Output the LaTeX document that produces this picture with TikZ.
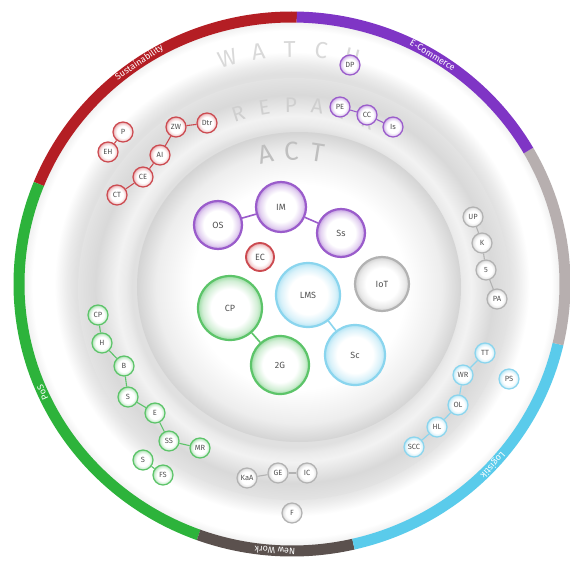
\documentclass[tikz,border=0pt]{standalone}
\usepackage{fontspec}
\setmainfont{Fira Sans}
\usetikzlibrary{positioning}

% ring and node colours
\definecolor{ringred}{HTML}{B41E24}
\definecolor{ringpurple}{HTML}{7F35C5}
\definecolor{ringgray}{HTML}{B7AFAF}
\definecolor{ringblue}{HTML}{5ACBEB}
\definecolor{ringbrown}{HTML}{5B514E}
\definecolor{ringgreen}{HTML}{2DB33B}
\definecolor{nodered}{HTML}{CC4A50}
\definecolor{nodepurple}{HTML}{9A5CCB}
\definecolor{nodegreen}{HTML}{5CC469}
\definecolor{nodeblue}{HTML}{8AD5EE}
\definecolor{nodegray}{HTML}{B2B2B2}

% soft disks: grey rim, white centre (path edge sits at 25bp)
\pgfdeclareradialshading{watchshade}{\pgfpoint{0bp}{0bp}}{color(0bp)=(black!12); color(20bp)=(black!12); color(20.8bp)=(black!8); color(22bp)=(white); color(24bp)=(white); color(25bp)=(black!7); color(50bp)=(black!7)}
\pgfdeclareradialshading{repairshade}{\pgfpoint{0bp}{0bp}}{color(0bp)=(black!12); color(18.8bp)=(black!12); color(19.5bp)=(black!8); color(20.5bp)=(black!5); color(23bp)=(black!15); color(25bp)=(black!11); color(50bp)=(black!11)}
\pgfdeclareradialshading{actshade}{\pgfpoint{0bp}{0bp}}{color(0bp)=(white); color(16.5bp)=(white); color(22bp)=(black!7); color(25bp)=(black!17); color(50bp)=(black!17)}
% node glows
\pgfdeclareradialshading{glowred}{\pgfpoint{0bp}{0bp}}{color(0bp)=(white); color(15bp)=(white); color(21.5bp)=(nodered!25); color(25bp)=(nodered!55); color(50bp)=(nodered!55)}
\pgfdeclareradialshading{glowpurple}{\pgfpoint{0bp}{0bp}}{color(0bp)=(white); color(15bp)=(white); color(21.5bp)=(nodepurple!28); color(25bp)=(nodepurple!60); color(50bp)=(nodepurple!60)}
\pgfdeclareradialshading{glowgreen}{\pgfpoint{0bp}{0bp}}{color(0bp)=(white); color(15bp)=(white); color(21.5bp)=(nodegreen!28); color(25bp)=(nodegreen!60); color(50bp)=(nodegreen!60)}
\pgfdeclareradialshading{glowblue}{\pgfpoint{0bp}{0bp}}{color(0bp)=(white); color(15bp)=(white); color(21.5bp)=(nodeblue!32); color(25bp)=(nodeblue!65); color(50bp)=(nodeblue!65)}
\pgfdeclareradialshading{glowgray}{\pgfpoint{0bp}{0bp}}{color(0bp)=(white); color(15bp)=(white); color(21.5bp)=(nodegray!28); color(25bp)=(nodegray!60); color(50bp)=(nodegray!60)}

\begin{document}
\begin{tikzpicture}[x=1pt, y=1pt,
  font=\fontsize{7.5}{8}\selectfont,
  ring/.style={line width=11pt},
  ringlabel/.style={text=white, inner sep=0pt, font=\fontsize{9}{10}\selectfont},
  watchtxt/.style={text=black!15, inner sep=0pt, font=\fontsize{23}{24}\selectfont},
  repairtxt/.style={text=black!19, inner sep=0pt, font=\fontsize{21}{22}\selectfont},
  acttxt/.style={text=black!25, inner sep=0pt, font=\fontsize{26}{27}\selectfont},
  topic/.style={circle, minimum size=20pt, inner sep=1pt, line width=1.2pt, text=black!68},
  big/.style={circle, inner sep=1pt, line width=2.2pt, text=black!68,
              font=\fontsize{9}{10}\selectfont},
  tred/.style={draw=nodered, shade, shading=glowred},
  tpurple/.style={draw=nodepurple, shade, shading=glowpurple},
  tgreen/.style={draw=nodegreen, shade, shading=glowgreen},
  tblue/.style={draw=nodeblue, shade, shading=glowblue},
  tgray/.style={draw=nodegray, shade, shading=glowgray},
  link/.style={line width=1.1pt},
]

\useasboundingbox (-292,-276) rectangle (278,284);
\clip (-292,-276) rectangle (278,284);
\fill[white] (-292,-276) rectangle (278,284);

% ============ DISKS: watch / repair / act ============
\shade[shading=watchshade] (0,0) ellipse [x radius=270, y radius=264];
\shade[shading=repairshade] (2,-5) ellipse [x radius=216, y radius=211];
\shade[shading=actshade] (7,-3) ellipse [x radius=162, y radius=155];

% ============ OUTER RING: six topics ============
\draw[ring, ringred] (89:273 and 267) arc[start angle=89, end angle=158, x radius=273, y radius=267];
\draw[ring, ringgreen] (158:273 and 267) arc[start angle=158, end angle=250, x radius=273, y radius=267];
\draw[ring, ringbrown] (250:273 and 267) arc[start angle=250, end angle=283, x radius=273, y radius=267];
\draw[ring, ringblue] (283:273 and 267) arc[start angle=283, end angle=347, x radius=273, y radius=267];
\draw[ring, ringgray] (347:273 and 267) arc[start angle=347, end angle=390, x radius=273, y radius=267];
\draw[ring, ringpurple] (30:273 and 267) arc[start angle=30, end angle=89, x radius=273, y radius=267];

\node[ringlabel, rotate=34] at (124:273 and 267) {Sustainability};
\node[ringlabel, rotate=-31] at (59:273 and 267) {E-Commerce};
\node[ringlabel, rotate=114] at (204:273 and 267) {PoS};
\node[ringlabel, rotate=176.4] at (266.4:273 and 267) {New Work};
\node[ringlabel, rotate=-132.7] at (-42.7:273 and 267) {Logistik};

% ============ LAYER NAMES ============
\node[watchtxt, rotate=16] at (-64.6,225.8) {W};
\node[watchtxt, rotate=8.4] at (-33.8,232.5) {A};
\node[watchtxt, rotate=0.8] at (-2.3,235.0) {T};
\node[watchtxt, rotate=-6.8] at (29.2,233.3) {C};
\node[watchtxt, rotate=-14.4] at (60.2,227.5) {H};

\node[repairtxt, rotate=17.5] at (-53.7,170.6) {R};
\node[repairtxt, rotate=9.1] at (-27.8,176.7) {E};
\node[repairtxt, rotate=0.7] at (-1.2,179.0) {P};
\node[repairtxt, rotate=-7.7] at (25.4,177.4) {A};
\node[repairtxt, rotate=-16.1] at (51.5,171.9) {I};
\node[repairtxt, rotate=-24.5] at (76.5,162.6) {R};

\node[acttxt, rotate=13] at (-26.6,129.5) {A};
\node[acttxt, rotate=2] at (-0.7,132.9) {C};
\node[acttxt, rotate=-9] at (25.3,131.3) {T};

% ============ SUSTAINABILITY (red) ============
\node[topic, tred] (sP) at (-169,152) {P};
\node[topic, tred] (sEH) at (-184,132) {EH};
\node[topic, tred] (sZW) at (-116,157) {ZW};
\node[topic, tred] (sDtr) at (-85,161) {Dtr};
\node[topic, tred] (sAI) at (-132,129) {AI};
\node[topic, tred] (sCE) at (-149,107) {CE};
\node[topic, tred] (sCT) at (-175,89) {CT};
\draw[link, nodered] (sP) -- (sEH);
\draw[link, nodered] (sZW) -- (sDtr);
\draw[link, nodered] (sZW) -- (sAI);
\draw[link, nodered] (sAI) -- (sCE);
\draw[link, nodered] (sCE) -- (sCT);

% ============ E-COMMERCE (purple) ============
\node[topic, tpurple] (eDP) at (58,219) {DP};
\node[topic, tpurple] (ePE) at (48,177) {PE};
\node[topic, tpurple] (eCC) at (75,169) {CC};
\node[topic, tpurple] (eIs) at (101,157) {Is};
\draw[link, nodepurple] (ePE) -- (eCC);
\draw[link, nodepurple] (eCC) -- (eIs);

% ============ ACT: large topics ============
\node[big, tpurple, minimum size=48pt] (aOS) at (-74,59) {OS};
\node[big, tpurple, minimum size=50pt] (aIM) at (-11,77) {IM};
\node[big, tpurple, minimum size=48pt] (aSs) at (49,51) {Ss};
\node[big, tred, minimum size=28pt, line width=1.8pt] (aEC) at (-32,27) {EC};
\node[big, tgreen, minimum size=64pt] (aCP) at (-62,-24) {CP};
\node[big, tgreen, minimum size=58pt] (a2G) at (-12,-81) {2G};
\node[big, tblue, minimum size=64pt] (aLMS) at (16,-11) {LMS};
\node[big, tblue, minimum size=60pt] (aSc) at (63,-71) {Sc};
\node[big, tgray, minimum size=54pt] (aIoT) at (90,0) {IoT};
\draw[link, nodepurple, line width=1.6pt] (aOS) -- (aIM);
\draw[link, nodepurple, line width=1.6pt] (aIM) -- (aSs);
\draw[link, nodegreen, line width=1.6pt] (aCP) -- (a2G);
\draw[link, nodeblue, line width=1.6pt] (aLMS) -- (aSc);

% ============ RIGHT (grey) ============
\node[topic, tgray] (iUP) at (181,67) {UP};
\node[topic, tgray] (iK) at (190,41) {K};
\node[topic, tgray] (i5) at (194,14) {5};
\node[topic, tgray] (iPA) at (205,-15) {PA};
\draw[link, nodegray] (iUP) -- (iK);
\draw[link, nodegray] (iK) -- (i5);
\draw[link, nodegray] (i5) -- (iPA);

% ============ LOGISTIK (blue) ============
\node[topic, tblue] (lTT) at (193,-69) {TT};
\node[topic, tblue] (lWR) at (171,-91) {WR};
\node[topic, tblue] (lPS) at (217,-95) {PS};
\node[topic, tblue] (lOL) at (166,-121) {OL};
\node[topic, tblue] (lHL) at (145,-143) {HL};
\node[topic, tblue] (lSCC) at (122,-163) {SCC};
\draw[link, nodeblue] (lTT) -- (lWR);
\draw[link, nodeblue] (lWR) -- (lOL);
\draw[link, nodeblue] (lOL) -- (lHL);
\draw[link, nodeblue] (lHL) -- (lSCC);

% ============ POS (green) ============
\node[topic, tgreen] (pCP) at (-194,-31) {CP};
\node[topic, tgreen] (pH) at (-190,-59) {H};
\node[topic, tgreen] (pB) at (-168,-82) {B};
\node[topic, tgreen] (pS) at (-164,-113) {S};
\node[topic, tgreen] (pE) at (-137,-129) {E};
\node[topic, tgreen] (pSS) at (-123,-157) {SS};
\node[topic, tgreen] (pMR) at (-92,-164) {MR};
\node[topic, tgreen] (pS2) at (-149,-176) {S};
\node[topic, tgreen] (pFS) at (-129,-191) {FS};
\draw[link, nodegreen] (pCP) -- (pH);
\draw[link, nodegreen] (pH) -- (pB);
\draw[link, nodegreen] (pB) -- (pS);
\draw[link, nodegreen] (pS) -- (pE);
\draw[link, nodegreen] (pE) -- (pSS);
\draw[link, nodegreen] (pSS) -- (pMR);
\draw[link, nodegreen] (pS2) -- (pFS);

% ============ NEW WORK (grey) ============
\node[topic, tgray] (nKaA) at (-45,-194) {KaA};
\node[topic, tgray] (nGE) at (-14,-189) {GE};
\node[topic, tgray] (nIC) at (15,-189) {IC};
\node[topic, tgray] (nF) at (0,-229) {F};
\draw[link, nodegray] (nKaA) -- (nGE);
\draw[link, nodegray] (nGE) -- (nIC);

\end{tikzpicture}
\end{document}
